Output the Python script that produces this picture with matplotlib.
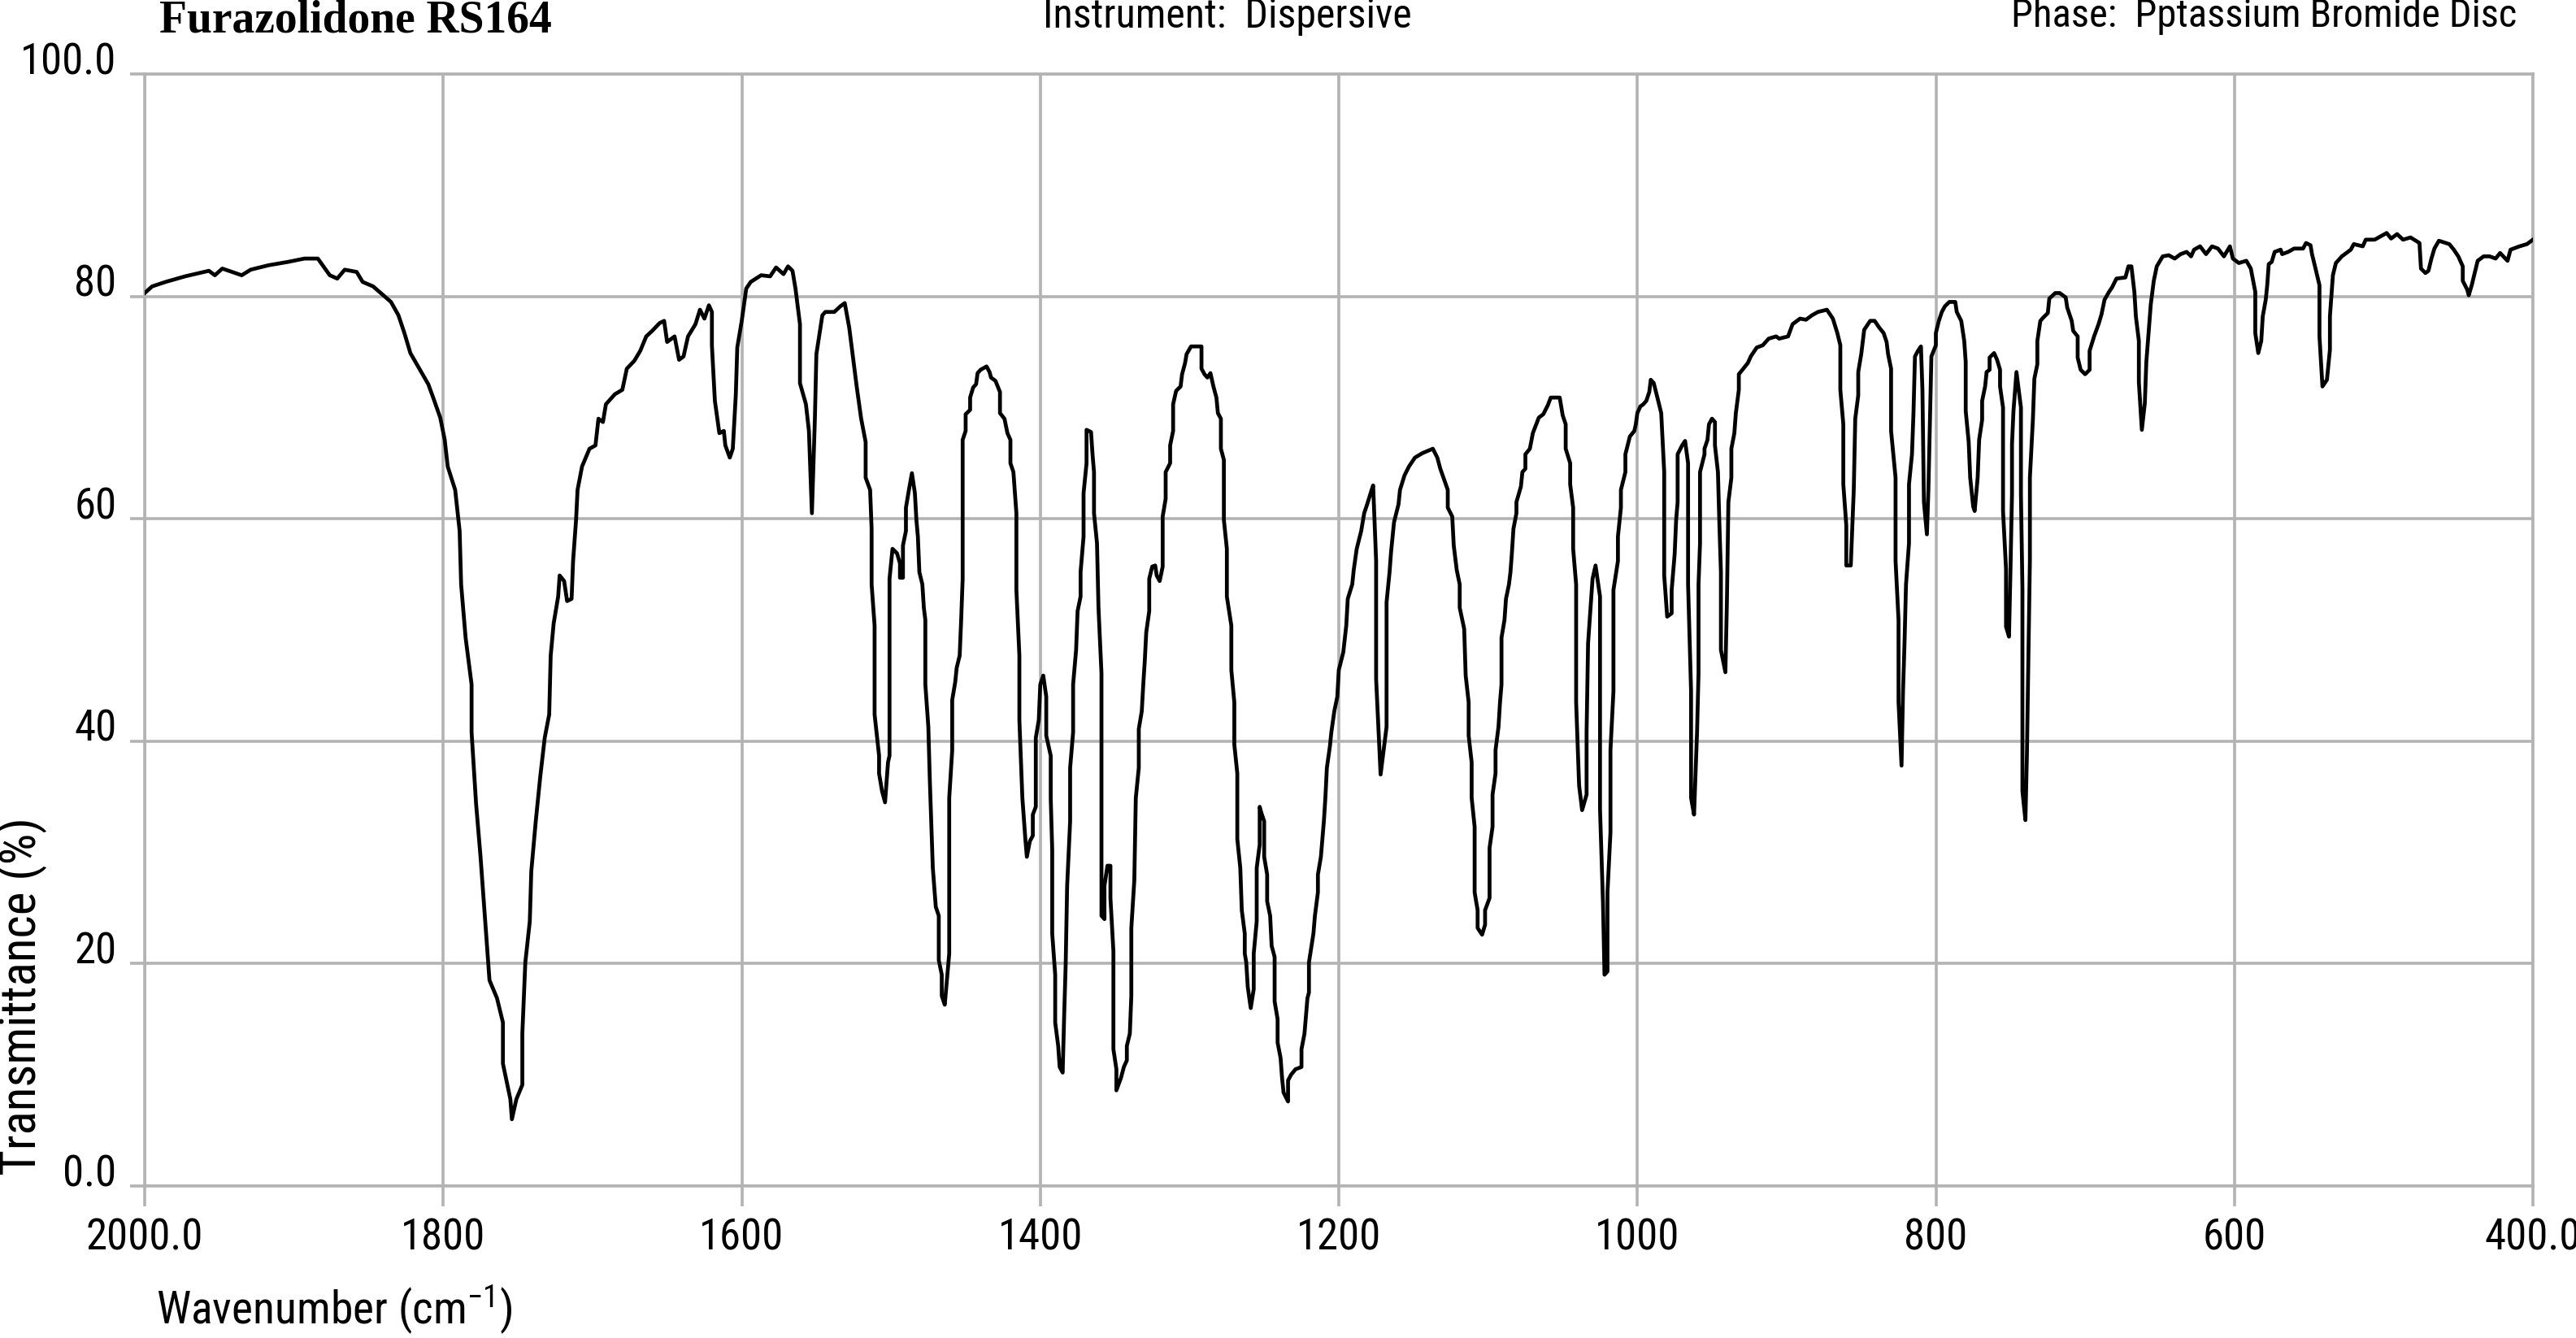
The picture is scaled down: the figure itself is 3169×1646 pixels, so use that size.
import matplotlib
matplotlib.use('Agg')
import matplotlib.pyplot as plt
from matplotlib import font_manager as fm
import numpy as np


# ---- data: (wavenumber, transmittance %) ----
band_2000_1525 = [
	(2000, 80.3), (1995, 80.9), (1986, 81.3), (1973, 81.8), (1957, 82.3), (1953, 81.9),
	(1948, 82.5), (1935, 81.9), (1929, 82.4), (1917, 82.8), (1904, 83.1), (1893, 83.4),
	(1884, 83.4), (1876, 81.9), (1871, 81.6), (1866, 82.4), (1858, 82.2), (1854, 81.3),
	(1847, 80.9), (1841, 80.2), (1835, 79.5), (1830, 78.3), (1826, 76.7), (1822, 74.9),
	(1816, 73.5), (1810, 72.1), (1807, 71.0), (1802, 69.1), (1799, 67.1), (1797, 64.7),
	(1792, 62.6), (1789, 58.9), (1788, 54.1), (1785, 49.3), (1781, 45.1), (1781, 40.8),
	(1778, 34.4), (1775, 29.6), (1772, 24.0), (1769, 18.5), (1764, 16.9), (1760, 14.7),
	(1760, 11.0), (1755, 7.8), (1754, 6.0), (1751, 7.8), (1747, 9.1), (1747, 13.7),
	(1745, 20.1), (1742, 23.8), (1741, 28.3), (1738, 32.8), (1735, 36.8), (1732, 40.3),
	(1729, 42.4), (1728, 47.7), (1726, 50.6), (1723, 53.0), (1722, 54.9), (1719, 54.4),
	(1717, 52.6), (1714, 52.8), (1713, 56.2), (1711, 59.9), (1710, 62.6), (1707, 64.7),
	(1702, 66.3), (1698, 66.6), (1696, 69.0), (1693, 68.7), (1691, 70.3), (1685, 71.2),
	(1680, 71.6), (1677, 73.5), (1672, 74.2), (1668, 75.1), (1664, 76.4), (1660, 76.9),
	(1655, 77.6), (1652, 77.8), (1650, 75.9), (1645, 76.4), (1642, 74.3), (1639, 74.6),
	(1636, 76.4), (1631, 77.5), (1628, 78.8), (1625, 78.0), (1622, 79.2), (1620, 78.6),
	(1620, 75.6), (1618, 70.6), (1615, 67.7), (1612, 67.9), (1611, 66.6), (1608, 65.5),
	(1606, 66.3), (1604, 71.1), (1603, 75.4), (1600, 77.8), (1597, 80.7), (1594, 81.3),
	(1587, 81.9), (1581, 81.8), (1577, 82.6), (1572, 82.0), (1569, 82.7), (1566, 82.3),
	(1564, 80.7), (1561, 77.5), (1561, 72.2), (1557, 70.3), (1555, 67.9), (1553, 60.5),
	(1551, 69.0), (1550, 74.8), (1546, 78.3), (1544, 78.6), (1538, 78.6), (1534, 79.1),
	(1531, 79.4), (1528, 77.2), (1525, 74.0),
]

band_1523_1172 = [
	(1523, 71.9), (1520, 69.0), (1517, 66.9), (1517, 63.7), (1514, 62.6), (1513, 59.1),
	(1513, 54.1), (1511, 50.4), (1511, 42.4), (1508, 38.7), (1508, 37.1), (1506, 35.5),
	(1504, 34.5), (1502, 38.1), (1501, 38.7), (1501, 54.6), (1499, 57.3), (1496, 56.9),
	(1494, 56.0), (1494, 54.7), (1492, 54.7), (1492, 57.6), (1490, 58.9), (1490, 61.0),
	(1488, 62.6), (1486, 64.1), (1484, 62.3), (1483, 59.9), (1482, 58.4), (1481, 55.2),
	(1479, 54.1), (1478, 52.0), (1477, 50.9), (1477, 45.1), (1475, 41.3), (1474, 36.5),
	(1472, 28.6), (1470, 25.1), (1468, 24.3), (1468, 20.3), (1466, 19.0), (1466, 17.1),
	(1464, 16.3), (1461, 20.9), (1461, 34.9), (1459, 39.2), (1459, 43.7), (1457, 45.3),
	(1456, 46.6), (1454, 47.7), (1453, 50.9), (1452, 54.6), (1452, 67.1), (1450, 67.9),
	(1450, 69.4), (1447, 69.8), (1447, 70.9), (1445, 71.8), (1443, 72.1), (1442, 73.1),
	(1440, 73.4), (1436, 73.7), (1434, 73.2), (1433, 72.7), (1430, 72.4), (1427, 71.4),
	(1427, 69.5), (1424, 69.0), (1422, 67.7), (1420, 67.1), (1420, 65.0), (1418, 64.2),
	(1416, 60.5), (1416, 53.6), (1414, 47.7), (1414, 41.9), (1412, 34.9), (1410, 31.2),
	(1409, 29.6), (1407, 31.0), (1405, 31.5), (1405, 33.4), (1403, 34.1), (1403, 40.3),
	(1401, 41.9), (1400, 45.1), (1398, 45.9), (1396, 44.0), (1396, 40.5), (1393, 38.7),
	(1393, 34.9), (1392, 30.2), (1392, 22.7), (1390, 19.0), (1390, 14.7), (1388, 12.6),
	(1387, 10.7), (1385, 10.2), (1384, 15.3), (1383, 19.8), (1382, 27.0), (1380, 32.8),
	(1380, 37.6), (1378, 40.8), (1378, 45.1), (1376, 48.2), (1375, 51.7), (1373, 53.0),
	(1373, 55.2), (1371, 58.4), (1371, 62.3), (1369, 65.0), (1369, 68.0), (1366, 67.8),
	(1365, 65.8), (1364, 64.2), (1364, 60.5), (1362, 57.8), (1361, 52.0), (1359, 46.1),
	(1359, 24.3), (1357, 24.0), (1357, 27.0), (1355, 28.8), (1353, 28.8), (1353, 25.9),
	(1351, 21.1), (1351, 12.3), (1349, 10.5), (1349, 8.6), (1346, 9.7), (1344, 10.7),
	(1342, 11.3), (1342, 12.6), (1340, 13.7), (1339, 17.1), (1339, 17.9), (1339, 23.2),
	(1337, 27.5), (1336, 34.9), (1334, 37.6), (1334, 41.1), (1332, 42.7), (1331, 45.1),
	(1330, 47.2), (1329, 49.8), (1327, 51.7), (1327, 54.6), (1325, 55.7), (1323, 55.8),
	(1322, 54.9), (1320, 54.4), (1318, 55.7), (1318, 60.2), (1316, 61.8), (1316, 64.2),
	(1313, 65.0), (1313, 66.6), (1311, 67.9), (1311, 70.3), (1309, 71.5), (1306, 71.9),
	(1305, 73.0), (1303, 74.0), (1302, 74.8), (1299, 75.5), (1292, 75.5), (1292, 73.5),
	(1290, 73.0), (1288, 72.7), (1286, 73.1), (1284, 71.9), (1282, 70.9), (1281, 69.5),
	(1279, 69.0), (1279, 66.3), (1277, 65.3), (1277, 59.9), (1275, 57.3), (1275, 53.0),
	(1272, 50.4), (1272, 46.4), (1270, 43.5), (1270, 39.7), (1268, 37.1), (1268, 31.2),
	(1266, 28.6), (1265, 24.8), (1263, 22.7), (1263, 20.9), (1262, 20.1), (1261, 17.9),
	(1259, 16.0), (1257, 17.7), (1257, 20.9), (1255, 23.8), (1255, 28.6), (1253, 30.7),
	(1253, 34.1), (1252, 33.6), (1250, 32.8), (1250, 29.6), (1248, 28.0), (1248, 25.6),
	(1246, 24.3), (1245, 21.6), (1243, 20.6), (1243, 16.6), (1241, 15.0), (1241, 12.9),
	(1239, 11.5), (1238, 9.7), (1237, 8.4), (1234, 7.6), (1234, 9.5), (1232, 10.0),
	(1229, 10.5), (1225, 10.7), (1225, 12.3), (1223, 13.7), (1221, 16.9), (1220, 17.4),
	(1220, 20.1), (1217, 22.7), (1216, 24.3), (1214, 26.4), (1214, 28.0), (1212, 29.6),
	(1210, 32.8), (1209, 34.9), (1208, 37.6), (1206, 39.5), (1205, 40.8), (1203, 42.7),
	(1201, 44.0), (1200, 46.4), (1197, 48.0), (1195, 50.4), (1194, 52.8), (1191, 54.1),
	(1190, 55.4), (1188, 57.3), (1185, 58.9), (1183, 60.5), (1181, 61.3), (1178, 62.6),
	(1177, 63.0), (1175, 56.2), (1175, 45.6), (1172, 37.0),
]

band_1168_794 = [
	(1168, 41.3), (1168, 52.5), (1166, 55.2), (1165, 57.0), (1163, 59.7), (1160, 61.3),
	(1159, 62.6), (1156, 63.9), (1153, 64.7), (1149, 65.5), (1144, 65.9), (1137, 66.3),
	(1134, 65.5), (1132, 64.5), (1127, 62.6), (1127, 61.0), (1124, 60.2), (1123, 57.6),
	(1121, 55.4), (1119, 54.1), (1119, 52.0), (1116, 50.1), (1115, 45.9), (1113, 43.5),
	(1113, 40.5), (1111, 38.1), (1111, 34.9), (1109, 32.3), (1109, 26.4), (1107, 24.8),
	(1107, 23.2), (1104, 22.6), (1102, 23.5), (1102, 24.8), (1099, 25.9), (1099, 30.4),
	(1097, 32.3), (1097, 35.2), (1095, 37.1), (1095, 39.2), (1093, 41.3), (1092, 43.5),
	(1091, 45.1), (1091, 49.3), (1089, 50.9), (1088, 52.8), (1086, 54.1), (1085, 55.2),
	(1084, 57.0), (1083, 59.1), (1081, 60.5), (1081, 61.5), (1078, 62.9), (1077, 64.2),
	(1075, 64.5), (1075, 65.8), (1072, 66.3), (1070, 67.7), (1066, 69.1), (1063, 69.4),
	(1060, 70.2), (1058, 70.9), (1055, 70.9), (1052, 70.9), (1050, 69.3), (1048, 68.5),
	(1048, 66.3), (1045, 65.0), (1045, 63.1), (1043, 61.0), (1043, 57.3), (1041, 54.1),
	(1041, 43.5), (1039, 36.0), (1037, 33.8), (1034, 35.2), (1034, 40.8), (1033, 48.8),
	(1030, 54.6), (1028, 55.8), (1025, 53.0), (1025, 33.9), (1023, 25.4), (1022, 19.0),
	(1020, 19.3), (1020, 26.4), (1018, 31.8), (1018, 39.2), (1016, 44.5), (1016, 53.6),
	(1013, 56.2), (1013, 58.4), (1011, 61.0), (1011, 62.6), (1008, 64.2), (1008, 65.8),
	(1005, 67.4), (1002, 67.9), (1001, 68.5), (1000, 69.5), (998, 70.1), (996, 70.3),
	(994, 70.6), (992, 71.4), (991, 72.5), (989, 72.2), (986, 70.6), (984, 69.5),
	(982, 64.2), (982, 54.9), (980, 51.2), (977, 51.5), (977, 53.6), (975, 56.8),
	(974, 59.9), (973, 61.5), (973, 65.8), (970, 66.6), (968, 67.0), (966, 65.0),
	(966, 54.1), (964, 44.5), (964, 34.9), (962, 33.4), (960, 40.8), (959, 46.1),
	(959, 54.1), (958, 57.8), (958, 64.2), (955, 65.8), (955, 66.3), (953, 67.1),
	(952, 68.5), (950, 69.0), (948, 68.7), (948, 66.6), (946, 64.2), (945, 59.4),
	(944, 55.2), (944, 48.2), (941, 46.2), (940, 52.5), (939, 61.5), (937, 63.7),
	(937, 66.3), (935, 67.7), (934, 69.5), (932, 71.6), (932, 73.0), (929, 73.5),
	(926, 74.0), (924, 74.6), (920, 75.4), (916, 75.6), (912, 76.2), (907, 76.4),
	(905, 76.2), (899, 76.4), (896, 77.5), (891, 78.0), (887, 77.9), (883, 78.3),
	(879, 78.6), (873, 78.8), (869, 78.0), (866, 76.7), (864, 75.6), (864, 71.6),
	(862, 68.5), (862, 63.1), (860, 59.4), (860, 55.8), (857, 55.8), (855, 62.6),
	(854, 69.0), (852, 71.1), (852, 73.2), (850, 74.8), (848, 77.0), (844, 77.8),
	(841, 77.8), (838, 77.2), (835, 76.7), (833, 75.9), (832, 74.8), (830, 73.5),
	(830, 67.9), (827, 63.7), (827, 56.2), (825, 50.9), (825, 43.5), (823, 37.8),
	(822, 44.5), (821, 48.8), (820, 54.1), (818, 57.8), (818, 63.1), (816, 65.8),
	(815, 69.5), (814, 74.6), (812, 75.1), (810, 75.5), (809, 71.6), (808, 61.5),
	(806, 58.6), (805, 62.6), (804, 68.5), (803, 74.6), (800, 75.6), (800, 76.7),
	(798, 77.8), (796, 78.6), (794, 79.1),
]

band_791_400 = [
	(791, 79.5), (787, 79.5), (786, 78.6), (783, 77.8), (782, 76.9), (781, 76.0),
	(780, 74.1), (780, 69.7), (778, 66.9), (777, 63.7), (775, 61.1), (774, 60.7),
	(772, 63.7), (771, 67.1), (769, 68.9), (769, 70.6), (767, 71.9), (766, 73.2),
	(764, 73.4), (764, 74.5), (761, 74.9), (759, 74.3), (757, 73.4), (757, 71.9),
	(755, 70.0), (755, 60.7), (753, 55.5), (753, 50.3), (751, 49.4), (750, 55.5),
	(749, 62.2), (749, 66.7), (748, 69.7), (746, 73.2), (743, 70.0), (743, 62.2),
	(742, 53.7), (742, 48.1), (742, 35.5), (740, 32.9), (739, 38.8), (738, 47.4),
	(737, 56.3), (737, 63.7), (735, 68.9), (734, 72.6), (732, 73.9), (732, 76.0),
	(730, 77.8), (728, 78.1), (725, 78.5), (724, 79.8), (720, 80.3), (717, 80.3),
	(713, 79.9), (712, 79.0), (709, 77.8), (708, 76.9), (705, 76.4), (705, 74.5),
	(703, 73.4), (700, 73.0), (697, 73.4), (697, 75.1), (694, 76.4), (691, 77.5),
	(689, 78.4), (687, 79.7), (684, 80.4), (682, 80.8), (679, 81.6), (673, 81.7),
	(671, 82.7), (669, 82.7), (667, 80.4), (666, 78.2), (664, 76.0), (664, 72.3),
	(662, 68.0), (660, 70.4), (659, 74.1), (656, 79.3), (654, 81.4), (652, 82.7),
	(648, 83.6), (644, 83.7), (640, 83.4), (636, 83.8), (632, 84.0), (629, 83.6),
	(627, 84.2), (623, 84.5), (619, 83.8), (615, 84.5), (611, 84.3), (607, 83.6),
	(603, 84.5), (601, 83.4), (597, 83.0), (592, 83.2), (589, 82.5), (586, 80.4),
	(586, 76.7), (584, 74.9), (582, 76.0), (581, 78.2), (579, 79.7), (578, 81.0),
	(577, 82.9), (575, 83.1), (573, 84.0), (569, 84.2), (568, 83.8), (564, 84.0),
	(560, 84.3), (554, 84.3), (552, 84.8), (549, 84.6), (548, 83.8), (546, 82.7),
	(543, 81.0), (543, 76.4), (541, 71.9), (538, 72.5), (536, 75.2), (536, 78.2),
	(534, 81.9), (532, 83.0), (528, 83.6), (522, 84.2), (520, 84.7), (514, 84.5),
	(512, 85.1), (506, 85.1), (498, 85.7), (495, 85.2), (491, 85.6), (487, 85.1),
	(482, 85.3), (476, 84.8), (475, 82.5), (472, 82.1), (470, 82.3), (468, 83.4),
	(466, 84.3), (463, 85.0), (456, 84.7), (453, 84.2), (450, 83.6), (447, 82.7),
	(447, 81.4), (444, 80.6), (443, 80.1), (441, 81.0), (439, 82.1), (437, 83.2),
	(433, 83.6), (429, 83.6), (425, 83.4), (422, 83.9), (417, 83.2), (415, 84.2),
	(409, 84.5), (404, 84.7), (400, 85.1),
]

x_ticks = [2000, 1800, 1600, 1400, 1200, 1000, 800, 600, 400]
x_tick_labels = ['2000.0', '1800', '1600', '1400', '1200', '1000', '800', '600', '400.0']
y_ticks = [0, 20, 40, 60, 80, 100]
y_tick_labels = ['0.0', '20', '40', '60', '80', '100.0']

title = 'Furazolidone RS164'
instrument = 'Instrument:  Dispersive'
phase = 'Phase:  Pptassium Bromide Disc'


# ---- fonts: the reference uses a narrow Arial-like face; take one if installed ----
fonts = fm.fontManager.ttflist
names = {f.name for f in fonts}
narrow, stretch, scale = None, 'normal', 1.0
for cand in ['Liberation Sans Narrow', 'Arial Narrow', 'DejaVu Sans Condensed',
		'Roboto Condensed', 'Open Sans Condensed', 'Noto Sans Condensed']:
	if cand in names:
		narrow = cand
		break
if narrow is None:
	for f in fonts:
		if f.stretch in ('condensed', 'semi-condensed') and f.name in (
				'Noto Sans', 'Open Sans', 'Roboto', 'DejaVu Sans', 'Inter'):
			narrow, stretch = f.name, f.stretch
			break
if narrow is None:
	narrow, scale = 'Liberation Sans', 0.88

plt.rcParams['font.family'] = [narrow, 'DejaVu Sans']
plt.rcParams['font.stretch'] = stretch
plt.rcParams['mathtext.fontset'] = 'custom'
plt.rcParams['mathtext.rm'] = narrow
plt.rcParams['mathtext.it'] = narrow

GRID = '#b3b3b3'
LW_GRID = 1.3

spectrum = np.array(band_2000_1525 + band_1523_1172 + band_1168_794 + band_791_400)

fig = plt.figure(figsize=(3169 / 200, 1646 / 200), dpi=200)
ax = fig.add_axes([178 / 3169, 1 - 1459 / 1646, (3116 - 178) / 3169, (1459 - 91) / 1646])

ax.plot(spectrum[:, 0], spectrum[:, 1], color='black', lw=1.7, zorder=3)

ax.set_xlim(2000, 400)
ax.set_ylim(0, 100)
ax.set_xticks(x_ticks)
ax.set_xticklabels(x_tick_labels)
ax.set_yticks(y_ticks)
ax.set_yticklabels(y_tick_labels)
ax.grid(True, color=GRID, lw=LW_GRID)

for sp in ax.spines.values():
	sp.set_color(GRID)
	sp.set_linewidth(LW_GRID)

ax.tick_params(axis='x', direction='out', length=9, width=LW_GRID, color=GRID,
	labelsize=19 * scale, pad=5)
ax.tick_params(axis='y', direction='out', length=6.5, width=LW_GRID, color=GRID,
	labelsize=19 * scale, pad=6)
for lab in ax.get_yticklabels():
	lab.set_va('baseline')

fig.text(196 / 3169, 1 - 25 / 1646, title, family='Liberation Serif', weight='bold',
	fontsize=20, ha='left', va='center')
fig.text(1283 / 3169, 1 - 20 / 1646, instrument, fontsize=18 * scale, ha='left', va='center')
fig.text(3096 / 3169, 1 - 20 / 1646, phase, fontsize=17.5 * scale, ha='right', va='center')

fig.text(26 / 3169, 1 - 1226 / 1646, 'Transmittance (%)', fontsize=22 * scale, rotation=90,
	ha='center', va='center')
fig.text(192 / 3169, 1 - 1611 / 1646, r'Wavenumber (cm$^{-1}$)', fontsize=20 * scale,
	ha='left', va='center')

fig.savefig('out.png', dpi=200)
